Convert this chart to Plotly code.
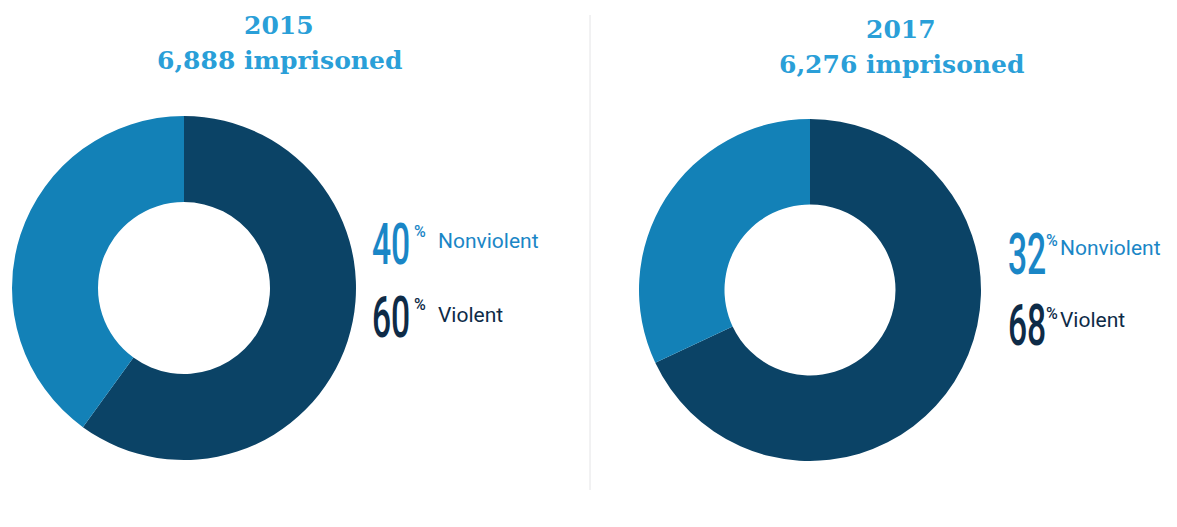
import plotly.graph_objects as go

# Prison population by offence type
years = ["2015", "2017"]
imprisoned = ["6,888", "6,276"]
categories = ["Violent", "Nonviolent"]
violent_pct = [60, 68]
nonviolent_pct = [40, 32]

W, H = 1177, 527
DARK = "#0b4366"
LIGHT = "#1381b7"
TITLE_BLUE = "#2a9fd8"
LABEL_BLUE = "#1a86c6"
LABEL_NAVY = "#0e2b47"
NUM_FONT = "Roboto, Liberation Sans, sans-serif"
SANS = "Roboto, Liberation Sans, sans-serif"
SERIF = "DejaVu Serif, serif"
NUM_SQUEEZE = 0.58  # horizontal compression applied to the big percentage digits

# pixel layout of each donut: centre x, centre y, radius
donuts = [(184, 288, 172), (810, 290, 171)]
title_cx = [279, 901]
title_y = [(25, 61), (29, 65)]
# label block per panel: number left edge, % left edge, word left edge
label_x = [(371, 413, 437), (1007, 1045, 1059)]
# vertical centres per row: (number, %, word)
rows_y = [[(244, 231, 241), (317, 304, 315)],
          [(254, 241, 248), (325, 313, 320)]]


def px(x):
    return x / W


def py(y):
    return 1 - y / H


fig = go.Figure()
for i in range(2):
    cx, cy, r = donuts[i]
    fig.add_trace(go.Pie(
        labels=categories,
        values=[violent_pct[i], nonviolent_pct[i]],
        hole=0.5,
        sort=False,
        direction="clockwise",
        rotation=0,
        marker=dict(colors=[DARK, LIGHT], line=dict(width=0)),
        textinfo="none",
        hoverinfo="label+percent",
        showlegend=False,
        domain=dict(x=[px(cx - r), px(cx + r)], y=[py(cy + r), py(cy - r)]),
    ))

ann = []
for i in range(2):
    ty1, ty2 = title_y[i]
    ann.append(dict(x=px(title_cx[i]), y=py(ty1), text=f"<b>{years[i]}</b>",
                    font=dict(family=SERIF, size=25, color=TITLE_BLUE)))
    ann.append(dict(x=px(title_cx[i]), y=py(ty2), text=f"<b>{imprisoned[i]} imprisoned</b>",
                    font=dict(family=SERIF, size=25, color=TITLE_BLUE)))
    nx, sx, wx = label_x[i]
    rows = [(nonviolent_pct[i], "Nonviolent", LABEL_BLUE),
            (violent_pct[i], "Violent", LABEL_NAVY)]
    for (val, name, col), (ny, sy, wy) in zip(rows, rows_y[i]):
        ann.append(dict(x=px(nx), y=py(ny), xanchor="left", text=f"{val}",
                        name="pct-number",
                        font=dict(family=NUM_FONT, size=58, weight=500, color=col)))
        ann.append(dict(x=px(sx), y=py(sy), xanchor="left", text="%",
                        font=dict(family=SANS, size=16, weight=500, color=col)))
        ann.append(dict(x=px(wx), y=py(wy), xanchor="left", text=name,
                        font=dict(family=SANS, size=21, color=col)))

for a in ann:
    a.update(xref="paper", yref="paper", showarrow=False, yanchor="middle",
             borderpad=0)
    a.setdefault("xanchor", "center")

fig.update_layout(
    width=W, height=H,
    margin=dict(l=0, r=0, t=0, b=0),
    paper_bgcolor="white",
    plot_bgcolor="white",
    annotations=ann,
    shapes=[dict(type="line", xref="paper", yref="paper",
                 x0=px(590), x1=px(590), y0=py(15), y1=py(490),
                 line=dict(color="#e4e4e6", width=1))],
)

# narrow the big digits so they read as a condensed display face
squeeze_js = """
var gd = document.getElementById('{plot_id}');
function squeeze() {
  var anns = gd._fullLayout.annotations;
  anns.forEach(function (a, i) {
    if (a.name !== 'pct-number') return;
    var t = gd.querySelector('.annotation[data-index="' + i + '"] text');
    if (!t) return;
    t.removeAttribute('transform');
    var b = t.getBBox();
    t.setAttribute('transform', 'translate(' + b.x + ',0) scale(%s,1) translate(' + (-b.x) + ',0)');
  });
}
squeeze();
gd.on('plotly_afterplot', squeeze);
""" % NUM_SQUEEZE

fig.write_html("out.html", post_script=squeeze_js)
